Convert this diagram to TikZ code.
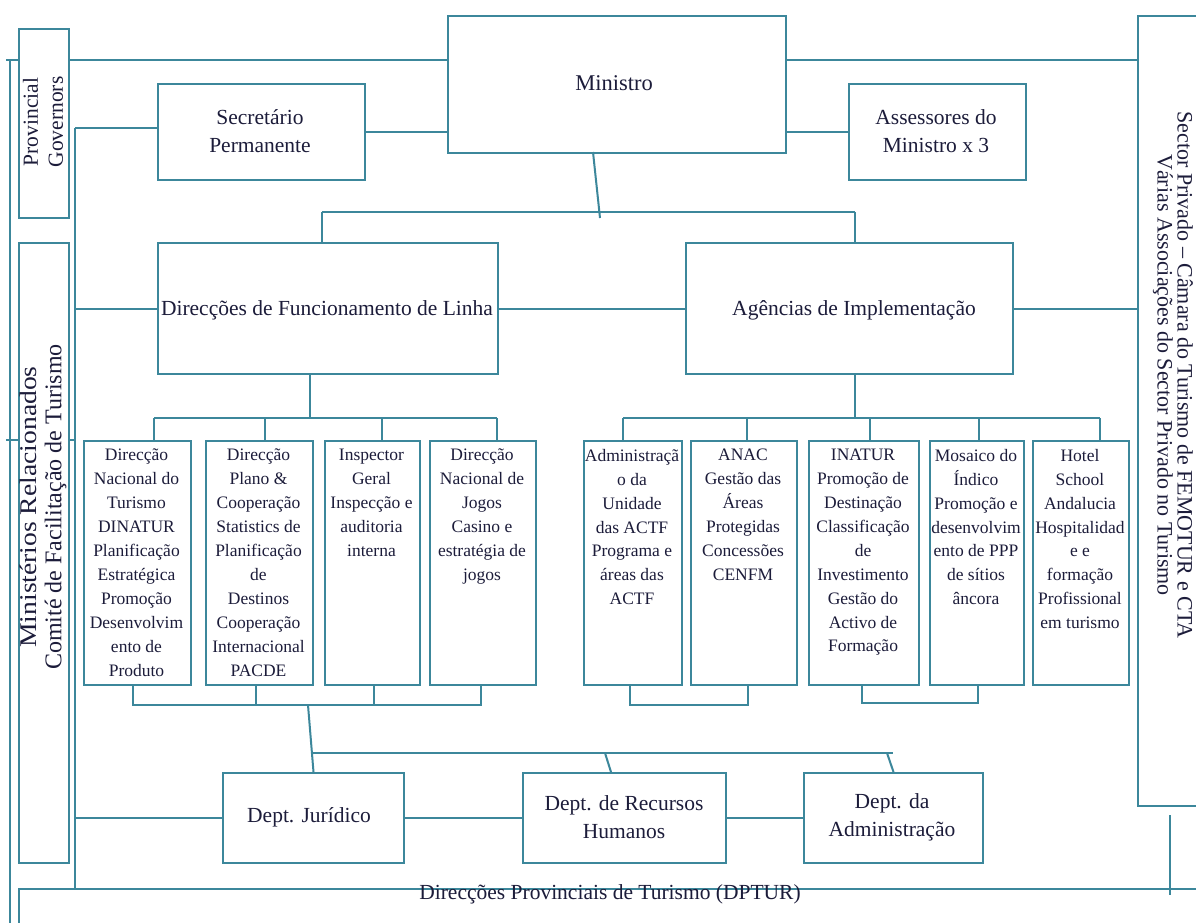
\documentclass[tikz,border=0pt]{standalone}
\usepackage{fontspec}
\usepackage{graphicx}
\setmainfont{Liberation Serif}
\definecolor{lineC}{RGB}{60,135,155}
\definecolor{txtC}{RGB}{28,28,58}
\begin{document}
\begin{tikzpicture}[x=1pt,y=-1pt,
 box/.style={draw=lineC, line width=2pt, fill=white, inner sep=0pt, anchor=north west},
 ln/.style={draw=lineC, line width=2pt},
 bigtxt/.style={text=txtC, font=\fontsize{21.5}{28}\selectfont, align=center, inner sep=0pt},
 smalltxt/.style={text=txtC, font=\fontsize{17.5}{23.9}\selectfont, align=center, inner sep=0pt, anchor=north},
]
\fill[white] (0,0) rectangle (1196,923);
\useasboundingbox (0,0) rectangle (1196,923);
% boxes
\node[box, minimum width=50pt, minimum height=189pt] (prov) at (18,28) {};
\node[box, minimum width=50pt, minimum height=620pt] (mini) at (18,242) {};
\node[box, minimum width=90pt, minimum height=790pt] (setor) at (1137,15) {};
\node[box, minimum width=338pt, minimum height=137pt] (ministro) at (447,15) {};
\node[box, minimum width=207pt, minimum height=96pt] (secr) at (157,83) {};
\node[box, minimum width=177pt, minimum height=96pt] (asses) at (848,83) {};
\node[box, minimum width=340pt, minimum height=131pt] (dir) at (157,242) {};
\node[box, minimum width=327pt, minimum height=131pt] (agen) at (685,242) {};
\node[box, minimum width=107pt, minimum height=244pt] (b1) at (83,440) {};
\node[box, minimum width=107pt, minimum height=244pt] (b2) at (205,440) {};
\node[box, minimum width=95pt, minimum height=244pt] (b3) at (324,440) {};
\node[box, minimum width=106pt, minimum height=244pt] (b4) at (429,440) {};
\node[box, minimum width=98pt, minimum height=244pt] (c1) at (583,440) {};
\node[box, minimum width=106pt, minimum height=244pt] (c2) at (690,440) {};
\node[box, minimum width=110pt, minimum height=244pt] (c3) at (808,440) {};
\node[box, minimum width=94pt, minimum height=244pt] (c4) at (929,440) {};
\node[box, minimum width=96pt, minimum height=244pt] (c5) at (1032,440) {};
\node[box, minimum width=181pt, minimum height=90pt] (jur) at (222,772) {};
\node[box, minimum width=203pt, minimum height=90pt] (rh) at (522,772) {};
\node[box, minimum width=179pt, minimum height=90pt] (adm) at (803,772) {};
\node[box, minimum width=1220pt, minimum height=80pt] (dptur) at (18,888) {};
% coordinates
\coordinate (oT0) at (6,60);
\coordinate (oT) at (10,60);
\coordinate (oB) at (10,923);
\coordinate (mT) at (6,440);
\coordinate (iT) at (75,128);
\coordinate (iB) at (75,888);
\coordinate (iM) at (75,440);
\coordinate (ms1) at (593,152);
\coordinate (ms2) at (600,218);
\coordinate (h1L) at (322,212);
\coordinate (h1R) at (855,212);
\coordinate (lt) at (310,418);
\coordinate (ltL) at (154,418);
\coordinate (lt2) at (265,418);
\coordinate (lt3) at (382,418);
\coordinate (ltR) at (497,418);
\coordinate (lb1) at (133,705);
\coordinate (lb2) at (256,705);
\coordinate (lb3) at (374,705);
\coordinate (lb4) at (481,705);
\coordinate (s0) at (308,705);
\coordinate (dh1) at (311,753);
\coordinate (dh2) at (893,753);
\coordinate (dr1) at (605,753);
\coordinate (dr2) at (611,772);
\coordinate (da1) at (887,753);
\coordinate (rt) at (855,418);
\coordinate (rt1) at (623,418);
\coordinate (rt2) at (747,418);
\coordinate (rt3) at (870,418);
\coordinate (rt4) at (979,418);
\coordinate (rt5) at (1100,418);
\coordinate (rb1) at (630,705);
\coordinate (rb2) at (748,705);
\coordinate (rb3) at (862,703);
\coordinate (rb4) at (978,703);
\coordinate (rv1) at (1170,815);
\coordinate (rv2) at (1170,895);
% connectors
\draw[ln] (oT) -- (oB);
\draw[ln] (oT0) -- (oT0 -| prov.west);
\draw[ln] (mT) -- (mT -| mini.west);
\draw[ln] (mT -| mini.east) -- (iM);
\draw[ln] (prov.east |- oT) -- (ministro.west |- oT);
\draw[ln] (ministro.east |- oT) -- (setor.west |- oT);
\draw[ln] (iT) -- (iB);
\draw[ln] (iT) -- (iT -| secr.west);
\draw[ln] (dir.west -| iT) -- (dir.west);
\draw[ln] (jur.west -| iT) -- (jur.west);
\draw[ln] (secr.east) -- (secr.east -| ministro.west);
\draw[ln] (asses.west) -- (asses.west -| ministro.east);
\draw[ln] (ms1) -- (ms2);
\draw[ln] (h1L) -- (h1R);
\draw[ln] (h1L) -- (h1L |- dir.north);
\draw[ln] (h1R) -- (h1R |- agen.north);
\draw[ln] (dir.east) -- (dir.east -| agen.west);
\draw[ln] (agen.east) -- (agen.east -| setor.west);
% left tree
\draw[ln] (lt |- dir.south) -- (lt);
\draw[ln] (ltL) -- (ltR);
\draw[ln] (ltL) -- (ltL |- b1.north);
\draw[ln] (lt2) -- (lt2 |- b2.north);
\draw[ln] (lt3) -- (lt3 |- b3.north);
\draw[ln] (ltR) -- (ltR |- b4.north);
\draw[ln] (lb1 |- b1.south) -- (lb1) -- (lb4) -- (lb4 |- b4.south);
\draw[ln] (lb2 |- b2.south) -- (lb2);
\draw[ln] (lb3 |- b3.south) -- (lb3);
\draw[ln] (s0) -- (jur.north);
\draw[ln] (dh1) -- (dh2);
\draw[ln] (dr1) -- (dr2);
\draw[ln] (da1) -- (adm.north);
% right tree
\draw[ln] (rt |- agen.south) -- (rt);
\draw[ln] (rt1) -- (rt5);
\draw[ln] (rt1) -- (rt1 |- c1.north);
\draw[ln] (rt2) -- (rt2 |- c2.north);
\draw[ln] (rt3) -- (rt3 |- c3.north);
\draw[ln] (rt4) -- (rt4 |- c4.north);
\draw[ln] (rt5) -- (rt5 |- c5.north);
\draw[ln] (rb1 |- c1.south) -- (rb1) -- (rb2) -- (rb2 |- c2.south);
\draw[ln] (rb3 |- c3.south) -- (rb3) -- (rb4) -- (rb4 |- c4.south);
% bottom row
\draw[ln] (jur.east) -- (rh.west);
\draw[ln] (rh.east) -- (adm.west);
\draw[ln] (rv1) -- (rv2);
% texts
\node[bigtxt, font=\fontsize{22.5}{28}\selectfont] (ministrot) at (614,83) {Ministro};
\node[bigtxt] (secrt) at (260,131) {Secretário\\Permanente};
\node[bigtxt] (assest) at (936,131) {Assessores do\\Ministro x 3};
\node[bigtxt] (dirt) at (327,310) {Direcções de Funcionamento de Linha};
\node[bigtxt] (agent) at (854,310) {Agências de Implementação};
\node[bigtxt] (jurt) at (309,817) {Dept. Jurídico};
\node[bigtxt] (rht) at (624,817) {Dept. de Recursos\\Humanos};
\node[bigtxt] (admt) at (892,817) {Dept. da\\Administração};
\node[bigtxt] (dptut) at (610,894) {Direcções Provinciais de Turismo (DPTUR)};
\node[bigtxt, rotate=90, font=\fontsize{21.5}{25}\selectfont] (provt) at (43,122) {Provincial\\Governors};
\node[bigtxt, rotate=90, font=\fontsize{24}{25}\selectfont] (minit) at (43,507) {\scalebox{1.15}[1]{Ministérios Relacionados}\\Comité de Facilitação de Turismo};
\node[bigtxt, rotate=-90, font=\fontsize{22}{20}\selectfont] (setort) at (1173,375) {Sector Privado – Câmara do Turismo de FEMOTUR e CTA\\Várias Associações do Sector Privado no Turismo};
\node[smalltxt] (b1t) at (136.5,449) {Direcção\\Nacional do\\Turismo\\DINATUR\\Planificação\\Estratégica\\Promoção\\Desenvolvim\\ento de\\Produto};
\node[smalltxt] (b2t) at (258.5,449) {Direcção\\Plano \&\\Cooperação\\Statistics de\\Planificação\\de\\Destinos\\Cooperação\\Internacional\\PACDE};
\node[smalltxt] (b3t) at (371.5,449) {Inspector\\Geral\\Inspecção e\\auditoria\\interna};
\node[smalltxt] (b4t) at (482,449) {Direcção\\Nacional de\\Jogos\\Casino e\\estratégia de\\jogos};
\node[smalltxt] (c1t) at (632,449) {Administraçã\\o da\\Unidade\\das ACTF\\Programa e\\áreas das\\ACTF};
\node[smalltxt] (c2t) at (743,449) {ANAC\\Gestão das\\Áreas\\Protegidas\\Concessões\\CENFM};
\node[smalltxt] (c3t) at (863,449) {INATUR\\Promoção de\\Destinação\\Classificação\\de\\Investimento\\Gestão do\\Activo de\\Formação};
\node[smalltxt] (c4t) at (976,449) {Mosaico do\\Índico\\Promoção e\\desenvolvim\\ento de PPP\\de sítios\\âncora};
\node[smalltxt] (c5t) at (1080,449) {Hotel\\School\\Andalucia\\Hospitalidad\\e e\\formação\\Profissional\\em turismo};
\end{tikzpicture}
\end{document}
